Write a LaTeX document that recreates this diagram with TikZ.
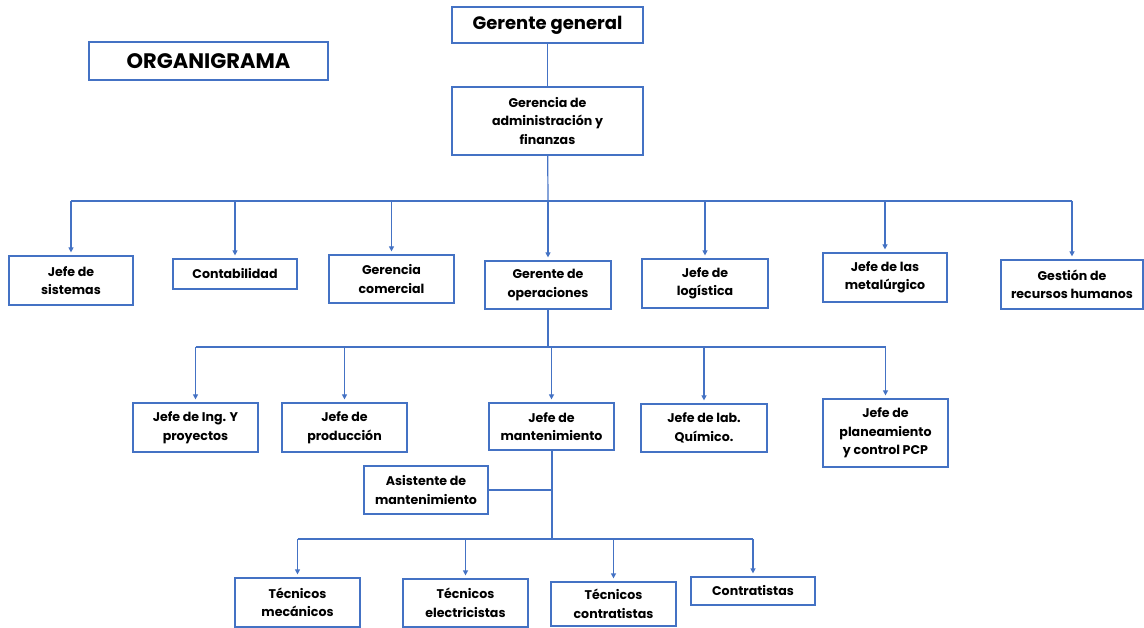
\documentclass[tikz,border=0pt]{standalone}
\usepackage{fontspec}
\setmainfont{Poppins}
\usetikzlibrary{arrows.meta}
\definecolor{azul}{HTML}{4472C4}
\begin{document}
\begin{tikzpicture}[x=1pt, y=-1pt,
    caja/.style={draw=azul, line width=1.2pt, inner sep=0pt, align=center,
      font=\fontsize{12.6}{18.5}\selectfont\bfseries},
    linea/.style={draw=azul, line width=1.2pt},
    flecha/.style={linea, -{Triangle[width=5pt,length=5pt]}, shorten >=3pt}]
  \useasboundingbox (0,0) rectangle (1144,628);

  % titulo y cabeza
  \node[caja, minimum width=239pt, minimum height=38pt, font=\fontsize{21}{24}\selectfont\bfseries] (titulo) at (208.5,61) {ORGANIGRAMA};
  \node[caja, minimum width=191pt, minimum height=36pt, font=\fontsize{18}{20}\selectfont\bfseries] (gg) at (547.5,25) {Gerente general};
  \node[caja, minimum width=191pt, minimum height=68pt] (adm) at (547.5,121) {Gerencia de\\administración y\\finanzas};

  % segundo nivel
  \node[caja, minimum width=124pt, minimum height=49pt] (sis) at (71,280.5) {Jefe de\\sistemas};
  \node[caja, minimum width=124pt, minimum height=30pt] (cont) at (235,274) {Contabilidad};
  \node[caja, minimum width=125pt, minimum height=48pt] (com) at (391.5,279) {Gerencia\\comercial};
  \node[caja, minimum width=126pt, minimum height=48pt] (ope) at (548,285) {Gerente de\\operaciones};
  \node[caja, minimum width=126pt, minimum height=49pt] (log) at (705,283.5) {Jefe de\\logística};
  \node[caja, minimum width=124pt, minimum height=49pt] (met) at (885,277.5) {Jefe de las\\metalúrgico};
  \node[caja, minimum width=142pt, minimum height=49pt] (rh) at (1072,284.5) {Gestión de\\recursos humanos};

  % tercer nivel
  \node[caja, minimum width=125pt, minimum height=49pt] (ing) at (195.5,427.5) {Jefe de Ing. Y\\proyectos};
  \node[caja, minimum width=125pt, minimum height=49pt] (prod) at (344.5,427.5) {Jefe de\\producción};
  \node[caja, minimum width=125pt, minimum height=47pt] (mant) at (551.5,426.5) {Jefe de\\mantenimiento};
  \node[caja, minimum width=126pt, minimum height=48pt] (lab) at (704,428) {Jefe de lab.\\Químico.};
  \node[caja, minimum width=125pt, minimum height=68pt] (pcp) at (885.5,433) {Jefe de\\planeamiento\\y control PCP};
  \node[caja, minimum width=124pt, minimum height=48pt] (asis) at (426,490) {Asistente de\\mantenimiento};

  % cuarto nivel
  \node[caja, minimum width=125pt, minimum height=49pt] (mec) at (297.5,602.5) {Técnicos\\mecánicos};
  \node[caja, minimum width=125pt, minimum height=48pt] (ele) at (465.5,603) {Técnicos\\electricistas};
  \node[caja, minimum width=125pt, minimum height=44pt] (ctr) at (613.5,604) {Técnicos\\contratistas};
  \node[caja, minimum width=124pt, minimum height=28pt] (contr) at (753,591) {Contratistas};

  \coordinate (bus1) at (548,201);
  \coordinate (bus2) at (548,347);
  \coordinate (bus3) at (552,539);

  % conectores
  \draw[linea] (gg) -- (adm);
  \draw[linea] (adm) -- (bus1);
  \draw[linea] (sis.north |- bus1) -- (rh.north |- bus1);
  \foreach \n in {sis,cont,com,ope,log,met,rh}
    \draw[flecha] (\n.north |- bus1) -- (\n.north);

  \draw[linea] (ope) -- (bus2);
  \draw[linea] (ing.north |- bus2) -- (pcp.north |- bus2);
  \foreach \n in {ing,prod,mant,lab,pcp}
    \draw[flecha] (\n.north |- bus2) -- (\n.north);

  \draw[linea] (mant.south -| bus3) -- (bus3);
  \draw[linea] (asis.east) -- (asis.east -| bus3);
  \draw[linea] (mec.north |- bus3) -- (contr.north |- bus3);
  \foreach \n in {mec,ele,ctr,contr}
    \draw[flecha] (\n.north |- bus3) -- (\n.north);
\end{tikzpicture}
\end{document}
